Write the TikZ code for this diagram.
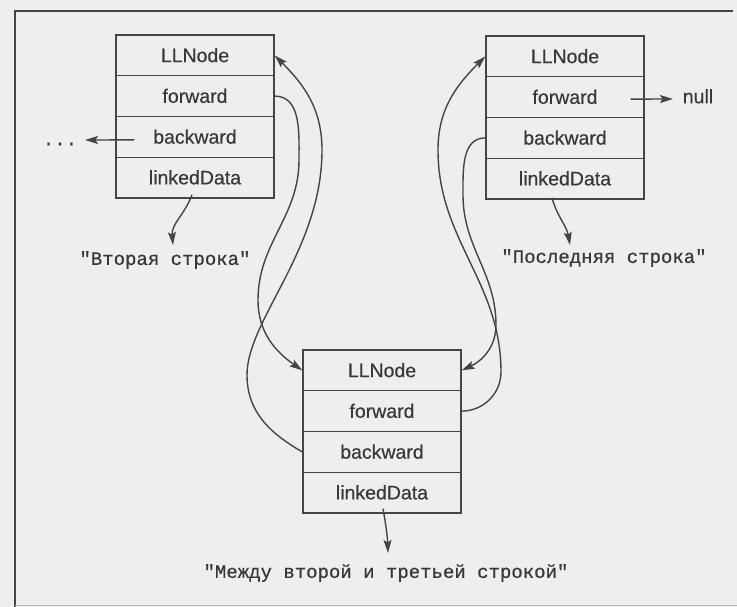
\documentclass[tikz,border=0pt]{standalone}
\usepackage{fontspec}
\setmainfont{Liberation Sans}[FakeBold=0.3]
\newfontfamily\monofont{Liberation Mono}[FakeBold=0.6]
\usetikzlibrary{arrows.meta,calc}
\definecolor{ink}{HTML}{454545}
\definecolor{txt}{HTML}{383838}
\definecolor{paper}{HTML}{EEEEEE}
\begin{document}
\begin{tikzpicture}[x=1pt,y=1pt,
  cell/.style={draw=ink, line width=1.4pt, minimum width=158pt, minimum height=40.75pt,
    inner sep=0pt, text height=13.5pt, text depth=0pt, font=\fontsize{19.5}{22}\selectfont, text=txt},
  lbl/.style={font=\monofont\fontsize{19}{22}\selectfont, text=txt, inner sep=0pt},
  plain/.style={font=\fontsize{19.5}{22}\selectfont, text=txt, inner sep=0pt, text height=13.5pt, text depth=0pt},
  arr/.style={draw=ink, line width=1.4pt, -{Stealth[length=13pt,width=8pt,inset=2.5pt]}},
]
\fill[paper] (0,0) rectangle (737,-607);
\useasboundingbox (0,0) rectangle (737,-607);
\draw[ink, line width=1.8pt] (733,-11) -- (15,-11) -- (15,-607);
\draw[ink!40, line width=1pt] (15,-605) -- (737,-605);

% box 1
\node[cell] (b1n) at (195,-55.4) {LLNode};
\node[cell] (b1f) at (195,-96.1) {forward};
\node[cell] (b1b) at (195,-136.9) {backward};
\node[cell] (b1d) at (195,-177.6) {linkedData};
% box 2
\node[cell] (b2n) at (565,-56.4) {LLNode};
\node[cell] (b2f) at (565,-97.1) {forward};
\node[cell] (b2b) at (565,-137.9) {backward};
\node[cell] (b2d) at (565,-178.6) {linkedData};
% box 3
\node[cell] (b3n) at (382,-370.4) {LLNode};
\node[cell] (b3f) at (382,-411.1) {forward};
\node[cell] (b3b) at (382,-451.9) {backward};
\node[cell] (b3d) at (382,-492.6) {linkedData};

% labels
\node[lbl] (dots) at (60,-144) {...};
\node[plain] (null) at (698,-96.5) {null};
\node[lbl] (v2) at (165,-260) {"Вторая строка"};
\node[lbl] (vl) at (604,-258) {"Последняя строка"};
\node[lbl] (vm) at (386,-573) {"Между второй и третьей строкой"};

\coordinate (dotend) at (85,-140);
\coordinate (nullend) at (673,-99);
\coordinate (v2end) at (173,-245);
\coordinate (vlend) at (570,-245);
\coordinate (vmend) at (388,-553);

% short arrows
\draw[arr] ($(b1b.west)+(19,-3)$) -- (dotend);
\draw[arr] ($(b2f.east)+(-14,-2)$) -- (nullend);
\draw[arr] ($(b1d.south)+(-3,4)$) to[out=-110,in=95] (v2end);
\draw[arr] ($(b2d.south)+(-13,2)$) to[out=-75,in=100] (vlend);
\draw[arr] ($(b3d.south)+(1,5)$) to[out=-80,in=92] (vmend);

% long curves, left
\draw[arr] (b1f.east) to[out=0,in=90] (299,-160) to[out=-90,in=90] (258,-300)
  to[out=-90,in=145] (b3n.west);
\draw[arr] (b3b.west) to[out=150,in=-90] (247,-375) .. controls (247,-320) and (322,-250) .. (322,-150)
  to[out=90,in=-45] (b1n.east);
% long curves, right
\draw[arr] (b3f.east) to[out=0,in=-90] (501,-372) to[out=90,in=-90] (438,-150)
  to[out=90,in=-135] (b2n.west);
\draw[arr] (b2b.west) to[out=180,in=90] (463,-195) to[out=-90,in=90] (496,-325)
  to[out=-90,in=25] (b3n.east);
\end{tikzpicture}
\end{document}
